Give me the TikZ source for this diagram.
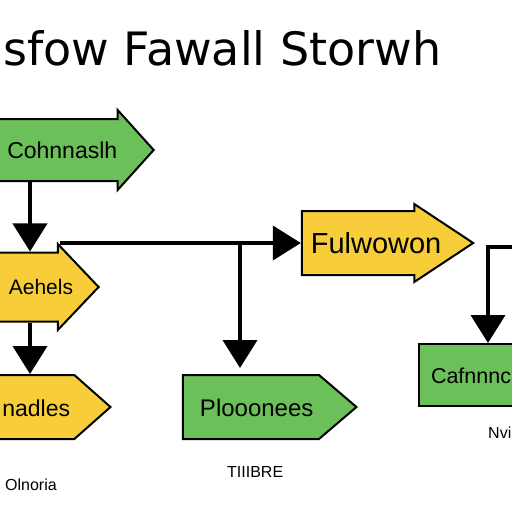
\documentclass[tikz,border=0pt]{standalone}
\usepackage{fontspec}
\setmainfont{Liberation Sans}
\newfontfamily\titlefont{DejaVu Sans}
\usepackage{xcolor}
\usetikzlibrary{shapes.arrows,arrows.meta,positioning,calc}

\definecolor{flowgreen}{RGB}{108,192,90}
\definecolor{flowyellow}{RGB}{247,206,58}

\begin{document}
\begin{tikzpicture}[
            x=1pt, y=-1pt,
            flow/.style={single arrow, draw, line width=2pt, inner xsep=0pt, inner ysep=0pt, anchor=tip, align=left},
            plain/.style={draw, line width=2pt, inner xsep=0pt, inner ysep=0pt, align=left},
            arr/.style={line width=4pt, -{Triangle[width=34pt,length=28pt]}},
            lbl/.style={inner sep=0pt, font=\fontsize{16}{16}\selectfont},
        ]
            \useasboundingbox (0,0) rectangle (512,512);
            \node[anchor=base west, inner sep=0pt, font=\titlefont\fontsize{46}{46}\selectfont] (title) at (3,65) {sfow Fawall Storwh};

            \node[flow, fill=flowgreen, text height=38pt, text depth=22pt, single arrow head extend=9pt, single arrow tip angle=96, text width=125pt, align=center, font=\fontsize{23}{23}\selectfont] (cohn) at (155,150) {\mbox{Cohnnaslh}};
            \node[flow, fill=flowyellow, text height=41pt, text depth=26pt, single arrow head extend=8.5pt, single arrow tip angle=93, text width=80pt, font=\fontsize{21}{21}\selectfont] (aeh) at (100,287) {\hspace*{24pt}\mbox{Aehels}};
            \node[flow, fill=flowyellow, text height=41pt, text depth=21pt, single arrow head extend=7pt, single arrow tip angle=67, text width=121pt, font=\fontsize{29}{29}\selectfont] (fulw) at (475,243) {\hspace*{8pt}\mbox{Fulwowon}};
            \node[flow, fill=flowyellow, text height=40pt, text depth=22pt, single arrow head extend=0pt, single arrow tip angle=83, text width=107pt, font=\fontsize{23}{23}\selectfont] (nadl) at (112,407) {\hspace*{36pt}\mbox{nadles}};
            \node[flow, fill=flowgreen, text height=40pt, text depth=22pt, single arrow head extend=0pt, single arrow tip angle=81, text width=134pt, font=\fontsize{24}{24}\selectfont] (ploo) at (358,407) {\hspace*{16pt}\mbox{Plooonees}};
            \node[plain, fill=flowgreen, anchor=north west, text height=39pt, text depth=23pt, text width=142pt, font=\fontsize{21.5}{21.5}\selectfont] (cafn) at (418,343) {\hspace*{12pt}\mbox{Cafnnnc}};

            \node[lbl, anchor=west] (olno) at (5,485) {Olnoria};
            \node[lbl, anchor=west] (tiib) at (227,472) {TIIIBRE};
            \node[lbl, anchor=west] (nvi) at (488,433) {Nvi};

            \coordinate (lx) at (30,0);
            \coordinate (hstart) at (60,243);
            \coordinate (split) at (240,243);
            \coordinate (rin) at (520,247);
            \draw[arr] (lx |- cohn.south) -- (lx |- aeh.north);
            \draw[arr] (lx |- aeh.south) -- (lx |- nadl.north);
            \draw[arr] (hstart) -- (fulw.tail);
            \draw[arr] (split) -- ([yshift=6pt]split |- ploo.north);
            \draw[arr] (rin) -| ([xshift=70pt]cafn.north west);
        \end{tikzpicture}
\end{document}
